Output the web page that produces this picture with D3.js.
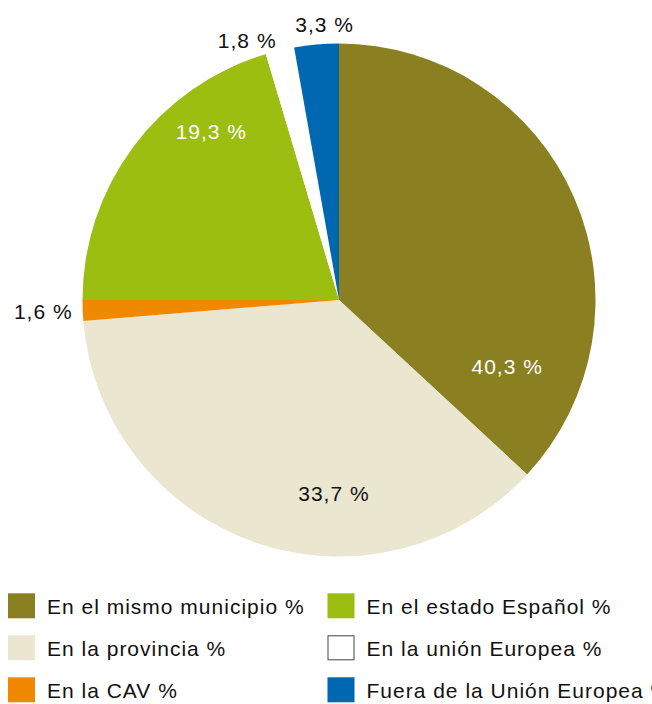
<!DOCTYPE html>
<html>
<head>
<meta charset="utf-8">
<script src="https://cdn.jsdelivr.net/npm/d3@7/dist/d3.min.js"></script>
<style>
  html, body { margin: 0; padding: 0; background: #fff; }
  svg { display: block; }
  text { font-family: "Liberation Sans", Arial, Helvetica, sans-serif; }
</style>
</head>
<body>
<svg id="chart" width="652" height="704"></svg>
<script>
// ---- data ----
const categories = [
  "En el mismo municipio %",
  "En la provincia %",
  "En la CAV %",
  "En el estado Español %",
  "En la unión Europea %",
  "Fuera de la Unión Europea %"
];
// slice sizes as drawn in the picture (share of the full circle, %)
const sliceShares = [36.9, 36.8, 1.3, 20.4, 1.8, 2.8];
// percentages printed on the chart
const valueLabels = ["40,3 %", "33,7 %", "1,6 %", "19,3 %", "1,8 %", "3,3 %"];

// ---- styles / layout ----
const colors = ["#8a8021", "#eae6d0", "#f08800", "#9bbe10", "#ffffff", "#0067b1"];
const labelColors = ["#ffffff", "#111111", "#111111", "#ffffff", "#111111", "#111111"];
// label placement: [angle in degrees clockwise from top, distance from centre]
const labelPolar = [[111.7, 181], [181.5, 193.6], [267.7, 296], [322.8, 211.2], [340.5, 275], [357, 276.2]];
const cx = 339, cy = 300, R = 256.5;

const svg = d3.select("#chart");
const g = svg.append("g").attr("transform", `translate(${cx},${cy})`);

const pie = d3.pie().sort(null).value(d => d);
const arc = d3.arc().innerRadius(0).outerRadius(R);
const arcs = pie(sliceShares);

g.selectAll("path.slice")
  .data(arcs)
  .join("path")
  .attr("class", "slice")
  .attr("d", arc)
  .attr("fill", (d, i) => colors[i]);

g.selectAll("text.vlabel")
  .data(valueLabels)
  .join("text")
  .attr("class", "vlabel")
  .attr("x", (d, i) => labelPolar[i][1] * Math.sin(labelPolar[i][0] * Math.PI / 180))
  .attr("y", (d, i) => -labelPolar[i][1] * Math.cos(labelPolar[i][0] * Math.PI / 180))
  .attr("dy", "0.36em")
  .attr("text-anchor", "middle")
  .style("font-size", "21px")
  .style("letter-spacing", "1px")
  .attr("fill", (d, i) => labelColors[i])
  .text(d => d);

// ---- legend ----
const legendOrder = [0, 3, 1, 4, 2, 5];
const colX = [8, 327.5];
const rowBase = 614.3, rowStep = 42;
const legend = svg.append("g");
legendOrder.forEach((ci, k) => {
  const col = k % 2, row = Math.floor(k / 2);
  const base = rowBase + row * rowStep;
  legend.append("rect")
    .attr("x", colX[col] + (ci === 4 ? 0.5 : 0))
    .attr("y", base - 21 + (ci === 4 ? 0.5 : 0))
    .attr("width", ci === 4 ? 26 : 27)
    .attr("height", ci === 4 ? 24 : 25)
    .attr("fill", colors[ci])
    .attr("stroke", ci === 4 ? "#444" : "none")
    .attr("stroke-width", 1);
  legend.append("text")
    .attr("x", colX[col] + 39)
    .attr("y", base)
    .style("font-size", "21px")
    .style("letter-spacing", "1px")
    .attr("fill", "#111")
    .text(categories[ci]);
});
</script>
</body>
</html>
